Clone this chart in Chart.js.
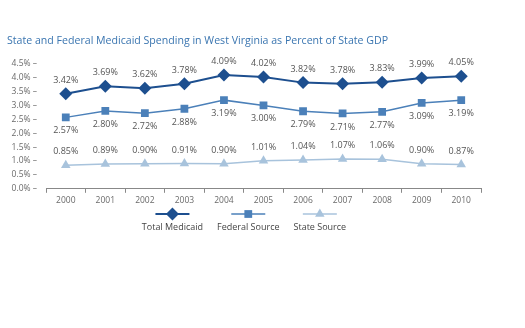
<!DOCTYPE html>
<html>
<head>
<meta charset="utf-8">
<script src="https://cdn.jsdelivr.net/npm/chart.js@4/dist/chart.umd.min.js"></script>
<style>
  html, body { margin: 0; padding: 0; background: #fff; }
  #wrap { width: 525px; height: 328px; }
</style>
</head>
<body>
<div id="wrap"><canvas id="gdpChart" width="525" height="328"></canvas></div>
<script>
var years = ['2000','2001','2002','2003','2004','2005','2006','2007','2008','2009','2010'];
var totalMedicaid = [3.42, 3.69, 3.62, 3.78, 4.09, 4.02, 3.82, 3.78, 3.83, 3.99, 4.05];
var federalSource = [2.57, 2.80, 2.72, 2.88, 3.19, 3.00, 2.79, 2.71, 2.77, 3.09, 3.19];
var stateSource = [0.85, 0.89, 0.90, 0.91, 0.90, 1.01, 1.04, 1.07, 1.06, 0.90, 0.87];
var yTicks = [0, 0.5, 1, 1.5, 2, 2.5, 3, 3.5, 4, 4.5];

var font = '"Open Sans", "Liberation Sans", sans-serif';
var textGray = '#6a6a6a';

// value labels: above the point for total/state, below for federal
var valueLabels = {
  id: 'valueLabels',
  afterDatasetsDraw: function(chart) {
    var ctx = chart.ctx;
    ctx.save();
    ctx.font = '9px ' + font;
    ctx.fillStyle = '#555';
    ctx.textAlign = 'center';
    chart.data.datasets.forEach(function(ds, i) {
      var meta = chart.getDatasetMeta(i);
      meta.data.forEach(function(pt, j) {
        var below = ds.labelPos === 'below';
        ctx.textBaseline = below ? 'top' : 'bottom';
        var y = below ? pt.y + 9 : pt.y - 9;
        ctx.fillText(ds.data[j].toFixed(2) + '%', pt.x, y);
      });
    });
    ctx.restore();
  }
};

// legend: line with marker, name underneath
var stackedLegend = {
  id: 'stackedLegend',
  afterDraw: function(chart) {
    var ctx = chart.ctx;
    ctx.save();
    ctx.font = '9px ' + font;
    var gap = 14;
    var widths = chart.data.datasets.map(function(ds) { return ctx.measureText(ds.label).width; });
    var total = widths.reduce(function(a, b) { return a + b; }, 0) + gap * (widths.length - 1);
    var x = 244 - total / 2;
    var lineY = 214, textY = 227;
    chart.data.datasets.forEach(function(ds, i) {
      var cx = x + widths[i] / 2;
      ctx.strokeStyle = ds.borderColor;
      ctx.lineWidth = ds.borderWidth;
      ctx.beginPath();
      ctx.moveTo(cx - 17, lineY);
      ctx.lineTo(cx + 17, lineY);
      ctx.stroke();
      ctx.fillStyle = ds.pointBackgroundColor;
      Chart.helpers.drawPoint(ctx, { pointStyle: ds.pointStyle, radius: ds.pointRadius, borderWidth: 0 }, cx, lineY);
      ctx.fillStyle = '#444';
      ctx.textAlign = 'center';
      ctx.textBaseline = 'middle';
      ctx.fillText(ds.label, cx, textY);
      x += widths[i] + gap;
    });
    ctx.restore();
  }
};

function series(label, data, color, style, radius, width, pos) {
  return {
    label: label,
    data: data,
    borderColor: color,
    backgroundColor: color,
    pointBackgroundColor: color,
    pointBorderColor: color,
    pointBorderWidth: 0,
    pointStyle: style,
    pointRadius: radius,
    pointHoverRadius: radius,
    borderWidth: width,
    tension: 0,
    labelPos: pos
  };
}

new Chart(document.getElementById('gdpChart').getContext('2d'), {
  type: 'line',
  data: {
    labels: years,
    datasets: [
      series('Total Medicaid', totalMedicaid, '#1d4f8f', 'rectRot', 6.5, 2, 'above'),
      series('Federal Source', federalSource, '#4b80b9', 'rect', 5.5, 1.5, 'below'),
      series('State Source', stateSource, '#a8c3dc', 'triangle', 5.5, 1.5, 'above')
    ]
  },
  options: {
    responsive: false,
    animation: false,
    layout: { padding: { left: 7, right: 44, top: 0, bottom: 119 } },
    plugins: {
      legend: { display: false },
      tooltip: { enabled: false },
      title: {
        display: true,
        text: 'State and Federal Medicaid Spending in West Virginia as Percent of State GDP',
        align: 'start',
        color: '#3a75b0',
        font: { family: font, size: 10.6, weight: 'normal' },
        padding: { top: 35, bottom: 16 }
      }
    },
    scales: {
      x: {
        offset: true,
        grid: { drawOnChartArea: false, tickLength: 4, color: '#888', offset: true },
        border: { color: '#888' },
        ticks: { color: textGray, font: { family: font, size: 8.5 }, padding: 3 }
      },
      y: {
        min: 0,
        max: 4.5,
        afterBuildTicks: function(axis) { axis.ticks = yTicks.map(function(v) { return { value: v }; }); },
        afterFit: function(axis) { axis.width = 39; },
        grid: { display: false },
        border: { display: false },
        ticks: {
          autoSkip: false,
          color: textGray,
          font: { family: font, size: 8.5 },
          padding: 1,
          callback: function(v) { return v.toFixed(1) + '% \u2013'; }
        }
      }
    }
  },
  plugins: [valueLabels, stackedLegend]
});
</script>
</body>
</html>
